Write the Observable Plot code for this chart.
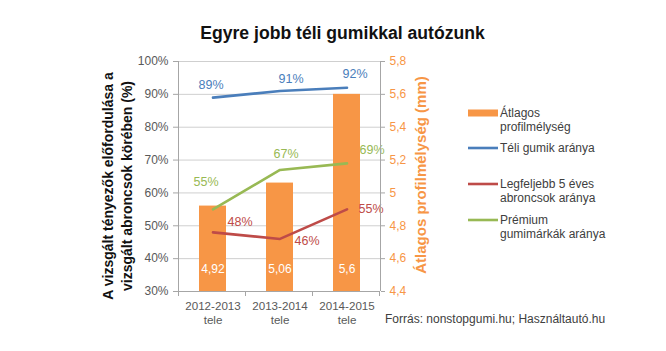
<!DOCTYPE html>
<html><head><meta charset="utf-8">
<script src="https://cdn.jsdelivr.net/npm/d3@7"></script>
<script src="https://cdn.jsdelivr.net/npm/@observablehq/plot@0.6"></script>
<style>
body{margin:0;background:#fff;}
svg{display:block;font-family:"Liberation Sans",Arial,sans-serif;}
</style>
</head><body><div id="chart"></div>
<script>
// ---- data ----
const categories = ["2012-2013\ntele", "2013-2014\ntele", "2014-2015\ntele"];
const profileDepth = [4.92, 5.06, 5.6];           // mm (right axis)
const winterTyreShare = [89, 91, 92];             // %
const youngTyreShare = [48, 46, 55];              // %
const premiumShare = [55, 67, 69];                // %
const leftTicks = [30, 40, 50, 60, 70, 80, 90, 100];
const rightTicks = [4.4, 4.6, 4.8, 5.0, 5.2, 5.4, 5.6, 5.8];
const legendLabels = [
  ["Átlagos", "profilmélység"],
  ["Téli gumik aránya"],
  ["Legfeljebb 5 éves", "abroncsok aránya"],
  ["Prémium", "gumimárkák aránya"]
];
const titleText = "Egyre jobb téli gumikkal autózunk";
const leftTitle = ["A vizsgált tényezők előfordulása a", "vizsgált abroncsok körében (%)"];
const rightTitle = "Átlagos profilmélység (mm)";
const sourceText = "Forrás: nonstopgumi.hu; Használtautó.hu";

// ---- styles ----
const ORANGE = "#F79646", BLUE = "#4A7EBB", RED = "#BE4B48", GREEN = "#98B954";
const W = 666, H = 351;
const mL = 178, mR = 286, mT = 61, mB = 60;
const rMin = rightTicks[0], rMax = rightTicks[rightTicks.length - 1];
const lMin = leftTicks[0], lMax = leftTicks[leftTicks.length - 1];
const toLeft = v => lMin + (v - rMin) / (rMax - rMin) * (lMax - lMin);
const fromLeft = p => rMin + (p - lMin) / (lMax - lMin) * (rMax - rMin);
const comma = v => String(Math.round(v * 100) / 100).replace(".", ",");

const series = [
  {values: winterTyreShare, color: BLUE, dx: [-2, 11, 8], dy: [-13, -12, -14]},
  {values: youngTyreShare, color: RED, dx: [27, 27, 24], dy: [-10, 2, 0]},
  {values: premiumShare, color: GREEN, dx: [-7, 6, 25], dy: [-27, -16, -13]}
];

const bars = categories.map((c, i) => ({cat: c, depth: profileDepth[i]}));

const marks = [
  Plot.ruleY(leftTicks.slice(1), {stroke: "#cfcfcf", strokeWidth: 1}),
  Plot.barY(bars, {x: "cat", y1: () => lMin, y2: d => toLeft(d.depth), fill: ORANGE, insetLeft: 20, insetRight: 20}),
  Plot.text(bars, {x: "cat", text: d => comma(d.depth), frameAnchor: "bottom", lineAnchor: "middle", dy: -22, fill: "#fff", fontSize: 12})
];
series.forEach(s => {
  const rows = categories.map((c, i) => ({cat: c, value: s.values[i]}));
  marks.push(Plot.lineY(rows, {x: "cat", y: "value", stroke: s.color, strokeWidth: 2.6}));
  rows.forEach((r, i) => {
    marks.push(Plot.text([r], {x: "cat", y: "value", text: d => d.value + "%", fill: s.color, fontSize: 12.5, dx: s.dx[i], dy: s.dy[i]}));
  });
});
marks.push(
  Plot.axisY(leftTicks, {anchor: "left", label: null, tickSize: 5, tickPadding: 5, tickFormat: d => d + "%", stroke: "#a6a6a6", fill: "#595959", fontSize: 12}),
  Plot.axisY(rightTicks.map(toLeft), {anchor: "right", label: null, tickSize: 4, tickPadding: 5, tickFormat: d => comma(fromLeft(d)), stroke: "#a6a6a6", fill: ORANGE, fontSize: 12}),
  Plot.text(categories, {x: d => d, text: d => d, frameAnchor: "bottom", lineAnchor: "middle", dy: 21, lineHeight: 1.22, fill: "#595959", fontSize: 11.6})
);

const plot = Plot.plot({
  width: W, height: H,
  marginLeft: mL, marginRight: mR, marginTop: mT, marginBottom: mB,
  style: {fontFamily: '"Liberation Sans", Arial, sans-serif', background: "#fff", overflow: "visible"},
  x: {type: "band", domain: categories, paddingInner: 0, paddingOuter: 0, axis: null},
  y: {domain: [lMin, lMax], axis: null},
  marks
});
document.getElementById("chart").appendChild(plot);

// ---- axis lines, boundary ticks, titles, legend ----
const svg = d3.select(plot);
const xs = plot.scale("x"), ys = plot.scale("y");
const [x0, x1] = xs.range;
const yb = ys.apply(lMin), yt = ys.apply(lMax);
const g = svg.append("g").attr("stroke", "#a6a6a6").attr("stroke-width", 1);
g.append("line").attr("x1", x0 + 0.5).attr("x2", x0 + 0.5).attr("y1", yt).attr("y2", yb);
g.append("line").attr("x1", x1 + 0.5).attr("x2", x1 + 0.5).attr("y1", yt).attr("y2", yb);
g.append("line").attr("x1", x0).attr("x2", x1).attr("y1", yb + 0.5).attr("y2", yb + 0.5);
for (let i = 0; i <= categories.length; i++) {
  const x = Math.round(x0 + i * xs.bandwidth) + 0.5;
  g.append("line").attr("x1", x).attr("x2", x).attr("y1", yb).attr("y2", yb + 5);
}

svg.append("text").attr("x", 342.5).attr("y", 32.5).attr("dy", "0.35em")
  .attr("text-anchor", "middle").attr("font-size", 17.6).attr("font-weight", "bold").attr("fill", "#111")
  .text(titleText);

const lt = svg.append("g").attr("transform", "translate(108,186) rotate(-90)")
  .attr("font-size", 14).attr("font-weight", "bold").attr("fill", "#111").attr("text-anchor", "middle");
leftTitle.forEach((t, i) => lt.append("text").attr("y", i * 19).attr("dy", "0.35em").text(t));

svg.append("text").attr("transform", "translate(421,175) rotate(-90)").attr("dy", "0.35em")
  .attr("text-anchor", "middle").attr("font-size", 15).attr("font-weight", "bold").attr("fill", ORANGE)
  .text(rightTitle);

const legendColors = [ORANGE, BLUE, RED, GREEN];
const legendY = [113, 148, 184, 220];
const lg = svg.append("g").attr("font-size", 12).attr("fill", "#404040").attr("text-anchor", "start");
legendLabels.forEach((lines, i) => {
  if (i === 0) lg.append("rect").attr("x", 468).attr("y", legendY[i] - 3.5).attr("width", 30).attr("height", 7).attr("fill", legendColors[i]);
  else lg.append("line").attr("x1", 468).attr("x2", 498).attr("y1", legendY[i]).attr("y2", legendY[i]).attr("stroke", legendColors[i]).attr("stroke-width", 2.6);
  lines.forEach((t, j) => lg.append("text").attr("x", 500).attr("y", legendY[i] + j * 14).attr("dy", "0.35em").text(t));
});

svg.append("text").attr("x", 385).attr("y", 318.5).attr("dy", "0.35em").attr("text-anchor", "start")
  .attr("font-size", 12).attr("fill", "#404040").text(sourceText);
</script>
</body></html>
